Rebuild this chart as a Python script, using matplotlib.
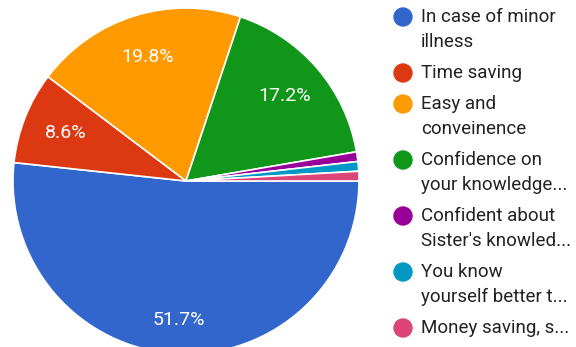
import matplotlib.pyplot as plt
from matplotlib.patches import Ellipse

plt.rcParams['font.family'] = ['Roboto', 'DejaVu Sans']

# survey responses: reasons given
labels = [
    ["In case of minor", "illness"],
    ["Time saving"],
    ["Easy and", "conveinence"],
    ["Confidence on", "your knowledge..."],
    ["Confident about", "Sister's knowled..."],
    ["You know", "yourself better t..."],
    ["Money saving, s..."],
]
shares = [51.7, 8.6, 19.8, 17.2, 0.9, 0.9, 0.9]
colors = ["#3366cc", "#dc3912", "#ff9900", "#109618", "#990099", "#0099c6", "#dd4477"]

W, H = 576, 347
fig = plt.figure(figsize=(W / 100, H / 100), dpi=100)

cx, cy, r = 186, 181, 173
ax = fig.add_axes([(cx - r) / W, (H - cy - r) / H, 2 * r / W, 2 * r / H])


def pct_label(p):
    return f"{p:.1f}%" if p >= 5 else ""


wedges, texts, autotexts = ax.pie(
    shares, colors=colors, startangle=0, counterclock=False,
    autopct=pct_label, pctdistance=0.75,
    wedgeprops=dict(edgecolor="white", linewidth=1.2),
    textprops=dict(color="white", fontsize=14),
)
px, py = autotexts[0].get_position()
autotexts[0].set_position((px * 1.07, py * 1.07))
ax.set_aspect("equal")
ax.set_xlim(-1, 1)
ax.set_ylim(-1, 1)
ax.axis("off")

# legend drawn by hand so wrapped entries line up
y = 17
for lines, col in zip(labels, colors):
    fig.add_artist(Ellipse((403 / W, (H - y) / H), 18 / W, 18 / H,
                           transform=fig.transFigure, color=col))
    for i, line in enumerate(lines):
        fig.text(421 / W, (H - y - 25 * i) / H, line, color="#222222",
                 fontsize=13.5, ha="left", va="center")
    y += 25 * (len(lines) - 1) + 31

fig.savefig("out.png", dpi=100)
